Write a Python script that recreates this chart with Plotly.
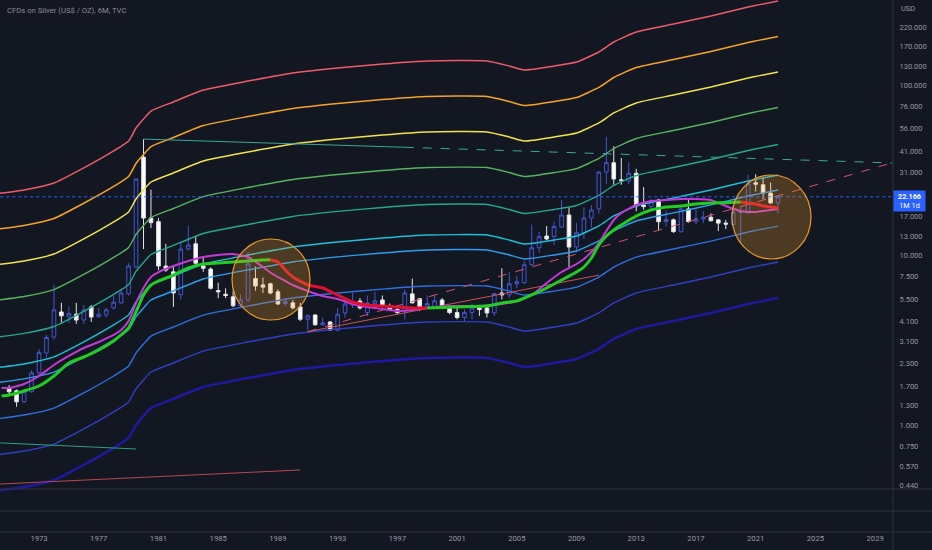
import plotly.graph_objects as go

BG = '#131722'
TXT = '#9598a1'
FONT = 'Roboto'

# ---- 6M candles, TVC silver, 1971 H1 .. 2022 H2 ----
candle_open = [1.65, 1.59, 1.37, 1.57, 2.03, 2.66, 3.30, 4.64, 4.35, 4.50,
               4.16, 4.97, 4.35, 4.45, 4.90, 5.25, 5.93, 8.56, 38.0, 16.6,
               15.8, 8.66, 8.00, 5.86, 10.9, 11.7, 8.66, 8.30, 6.20, 5.90,
               5.70, 5.05, 5.46, 7.30, 6.70, 6.80, 6.10, 5.20, 5.25, 4.97,
               4.20, 4.45, 3.90, 4.05, 3.63, 4.58, 5.10, 5.38, 4.60, 5.20,
               5.46, 5.00, 4.80, 4.70, 5.93, 5.55, 5.00, 5.00, 5.46, 5.00,
               4.60, 4.30, 4.60, 4.90, 4.90, 4.58, 6.00, 5.85, 6.80, 6.90,
               8.80, 11.1, 13.0, 12.9, 14.7, 17.3, 11.2, 13.6, 16.6, 18.8,
               31.0, 35.2, 27.9, 27.5, 30.5, 19.8, 19.4, 21.2, 15.8, 16.2,
               13.8, 18.8, 15.8, 16.4, 16.8, 16.2, 15.5, 15.2, 17.9, 17.8,
               26.8, 26.1, 23.3, 20.4]
candle_high = [1.72, 1.62, 1.62, 2.10, 2.80, 3.40, 6.70, 5.25, 5.00, 5.25,
               5.10, 5.10, 4.90, 4.90, 5.80, 6.30, 9.00, 28.5, 48.5, 24.4,
               16.6, 11.7, 8.66, 11.9, 14.9, 12.9, 9.90, 8.50, 6.90, 6.40,
               6.20, 5.90, 10.5, 8.60, 7.40, 6.90, 6.30, 5.60, 5.46, 5.25,
               4.50, 4.50, 4.30, 4.10, 4.90, 5.46, 6.00, 5.60, 5.80, 6.10,
               5.80, 5.20, 5.10, 6.30, 7.30, 5.60, 5.80, 5.80, 5.60, 5.10,
               4.90, 4.80, 5.20, 5.10, 4.95, 6.00, 8.40, 8.00, 7.60, 9.30,
               15.2, 13.8, 14.9, 15.8, 21.2, 19.2, 15.5, 19.2, 19.8, 31.3,
               49.8, 44.0, 37.5, 35.4, 32.4, 25.3, 21.6, 21.6, 18.4, 16.5,
               19.3, 21.2, 18.6, 18.2, 17.7, 16.3, 16.2, 19.6, 19.6, 29.9,
               30.1, 28.7, 26.9, 22.5]
candle_low = [1.50, 1.28, 1.35, 1.55, 1.95, 2.50, 3.20, 4.00, 4.00, 3.95,
              3.95, 4.05, 4.30, 4.30, 4.80, 5.20, 5.80, 8.40, 10.9, 14.5,
              8.20, 8.00, 4.97, 5.50, 10.7, 8.60, 8.00, 6.30, 5.60, 5.60,
              4.95, 4.90, 5.30, 6.20, 6.00, 5.90, 5.10, 5.00, 4.80, 4.10,
              3.60, 3.85, 3.85, 3.60, 3.55, 4.30, 4.90, 4.80, 4.40, 5.10,
              4.95, 4.70, 4.50, 4.20, 5.20, 4.70, 4.90, 4.90, 4.90, 4.50,
              4.20, 4.05, 4.20, 4.40, 4.30, 4.40, 5.50, 5.60, 6.40, 6.80,
              8.70, 10.3, 12.3, 11.5, 14.5, 8.55, 10.4, 12.5, 14.6, 17.6,
              26.4, 26.1, 26.1, 26.2, 18.2, 18.6, 18.2, 14.1, 14.8, 13.6,
              13.6, 15.6, 15.2, 15.5, 15.9, 13.9, 14.3, 15.0, 12.0, 17.7,
              23.8, 21.4, 20.1, 17.6]
candle_close = [1.57, 1.37, 1.57, 2.03, 2.68, 3.28, 4.77, 4.40, 4.55, 4.16,
                4.77, 4.33, 4.50, 4.77, 5.30, 6.00, 8.66, 28.2, 16.6, 15.6,
                8.66, 8.20, 6.00, 10.9, 11.5, 9.00, 8.40, 6.40, 6.10, 5.80,
                5.05, 5.46, 8.90, 6.60, 6.50, 6.00, 5.17, 5.35, 4.90, 4.20,
                4.40, 3.90, 4.00, 3.63, 4.50, 5.17, 5.30, 4.90, 5.25, 5.40,
                5.00, 4.80, 4.60, 6.00, 5.25, 5.00, 5.20, 5.40, 5.00, 4.60,
                4.30, 4.60, 4.90, 4.80, 4.58, 5.96, 5.85, 6.80, 7.00, 8.80,
                11.1, 12.9, 12.5, 14.8, 17.3, 11.2, 13.6, 16.6, 18.5, 31.0,
                35.2, 28.2, 27.6, 30.5, 19.6, 19.4, 21.0, 15.8, 16.3, 13.8,
                18.8, 15.8, 16.4, 16.8, 16.0, 15.5, 15.3, 18.0, 18.1, 26.4,
                26.3, 23.3, 20.4, 22.166]
candle_dates = []
for year in range(1971, 2023):
    candle_dates += [f'{year}-01-01', f'{year}-07-01']

# ---- price bands ----
band_dates = ['1970-01-01', '1972-01-01', '1974-01-01', '1976-01-01',
              '1978-01-01', '1979-01-01', '1979-07-01', '1980-01-01',
              '1980-07-01', '1982-01-01', '1984-01-01', '1987-01-01',
              '1990-01-01', '1993-01-01', '1996-01-01', '1999-01-01',
              '2003-01-01', '2004-07-01', '2005-07-01', '2007-07-01',
              '2009-01-01', '2010-07-01', '2011-07-01', '2013-01-01',
              '2015-07-01', '2018-01-01', '2020-07-01', '2022-07-01']
band_red = [23.0, 24.3, 26.7, 32.8, 41.3, 47.3, 56.4, 63.7, 71.0, 80.3,
            94.4, 106.7, 119.0, 127.4, 134.4, 140.0, 140.0, 130.8, 123.9,
            130.8, 138.1, 158.3, 181.3, 207.6, 231.4, 258.0, 291.5, 316.2]
band_orange = [14.2, 15.0, 16.5, 20.3, 25.5, 29.2, 34.8, 39.3, 43.8, 49.6,
               58.3, 65.9, 73.5, 78.7, 83.0, 86.5, 86.5, 80.8, 76.5, 80.8,
               85.3, 97.8, 112.0, 128.2, 142.9, 159.3, 180.0, 195.3]
band_yellow = [8.77, 9.27, 10.19, 12.51, 15.76, 18.04, 21.52, 24.30, 27.09,
               30.63, 36.01, 40.71, 45.40, 48.60, 51.27, 53.41, 53.41, 49.90,
               47.27, 49.90, 52.69, 60.39, 69.17, 79.20, 88.28, 98.43, 111.2,
               120.6]
band_lime = [5.42, 5.72, 6.29, 7.72, 9.73, 11.14, 13.28, 15.00, 16.72, 18.91,
             22.23, 25.13, 28.02, 30.00, 31.65, 32.97, 32.97, 30.80, 29.18,
             30.80, 32.52, 37.28, 42.70, 48.89, 54.49, 60.76, 68.65, 74.47]
band_teal = [3.28, 3.47, 3.81, 4.68, 5.89, 6.74, 8.04, 9.08, 10.12, 11.45,
             13.46, 15.22, 16.97, 18.17, 19.17, 19.96, 19.96, 18.65, 17.67,
             18.65, 19.69, 22.57, 25.85, 29.60, 33.00, 36.79, 41.57, 45.09]
band_cyan = [2.17, 2.29, 2.52, 3.09, 3.89, 4.46, 5.31, 6.00, 6.69, 7.56,
             8.89, 10.05, 11.21, 12.00, 12.66, 13.19, 13.19, 12.32, 11.67,
             12.32, 13.01, 14.91, 17.08, 19.56, 21.80, 24.30, 27.46, 29.79]
band_sky = [1.77, 1.87, 2.05, 2.52, 3.18, 3.64, 4.34, 4.90, 5.46, 6.18,
            7.26, 8.21, 9.15, 9.80, 10.34, 10.77, 10.77, 10.06, 9.53, 10.06,
            10.62, 12.17, 13.94, 15.96, 17.80, 19.84, 22.42, 24.32]
band_blue = [1.083, 1.145, 1.258, 1.545, 1.945, 2.228, 2.656, 3.000, 3.344,
             3.782, 4.446, 5.026, 5.605, 6.001, 6.330, 6.594, 6.594, 6.161,
             5.836, 6.161, 6.505, 7.456, 8.539, 9.778, 10.90, 12.15, 13.73,
             14.89]
band_indigo = [0.665, 0.703, 0.772, 0.948, 1.194, 1.367, 1.631, 1.842, 2.053,
               2.321, 2.729, 3.085, 3.440, 3.683, 3.885, 4.047, 4.047, 3.781,
               3.582, 3.781, 3.992, 4.576, 5.241, 6.002, 6.690, 7.459, 8.427,
               9.141]
band_navy = [0.408, 0.431, 0.474, 0.582, 0.733, 0.839, 1.001, 1.130, 1.260,
             1.425, 1.675, 1.893, 2.111, 2.260, 2.384, 2.484, 2.484, 2.320,
             2.198, 2.320, 2.450, 2.808, 3.216, 3.683, 4.105, 4.578, 5.171,
             5.609]

# ---- moving averages ----
ma_dates = ['1970-07-01', '1971-01-01', '1972-01-01', '1973-01-01',
            '1974-01-01', '1975-01-01', '1976-01-01', '1977-01-01',
            '1978-01-01', '1978-07-01', '1979-01-01', '1979-07-01',
            '1980-01-01', '1980-07-01', '1981-01-01', '1982-01-01',
            '1983-01-01', '1984-01-01', '1985-01-01', '1986-01-01',
            '1987-01-01', '1988-01-01', '1988-07-01', '1989-01-01',
            '1989-07-01', '1990-01-01', '1991-01-01', '1992-01-01',
            '1993-01-01', '1994-01-01', '1995-01-01', '1996-01-01',
            '1997-01-01', '1998-01-01', '1999-01-01', '2000-01-01',
            '2001-01-01', '2002-01-01', '2003-01-01', '2004-01-01',
            '2005-01-01', '2006-01-01', '2007-01-01', '2008-01-01',
            '2009-01-01', '2009-07-01', '2010-01-01', '2010-07-01',
            '2011-01-01', '2011-07-01', '2012-01-01', '2013-01-01',
            '2014-01-01', '2015-01-01', '2016-01-01', '2017-01-01',
            '2018-01-01', '2019-01-01', '2020-01-01', '2020-07-01',
            '2021-01-01', '2021-07-01', '2022-01-01', '2022-07-01']
ma_slow = [1.483, 1.503, 1.587, 1.698, 1.945, 2.321, 2.517, 2.768, 3.128,
           3.394, 3.732, 4.638, 5.842, 6.691, 7.065, 7.663, 8.427, 8.898,
           9.022, 9.144, 9.268, 9.395, 9.42, 9.144, 8.20, 7.458, 6.691,
           6.424, 5.842, 5.311, 5.099, 5.031, 4.963, 4.896, 4.89, 4.929,
           4.963, 4.997, 5.031, 5.240, 5.384, 5.842, 6.424, 7.161, 7.981,
           8.543, 9.654, 11.52, 13.01, 14.12, 15.11, 17.08, 18.52, 19.29,
           19.56, 20.10, 20.37, 20.45, 20.65, 20.37, 20.10, 19.56, 19.29,
           19.03]
ma_fast = [1.653, 1.653, 1.745, 1.945, 2.259, 2.552, 2.844, 3.086, 3.394,
           3.633, 4.105, 5.240, 6.424, 7.458, 7.981, 8.660, 9.268, 9.786,
           10.06, 10.19, 9.786, 8.543, 7.93, 7.458, 7.065, 6.691, 6.167,
           5.763, 5.533, 5.169, 4.963, 4.831, 4.702, 4.766, 4.896, 4.997,
           5.031, 5.031, 5.065, 5.169, 5.384, 5.842, 6.876, 7.981, 8.898,
           9.523, 10.47, 11.83, 13.93, 16.17, 17.78, 19.83, 20.94, 21.22,
           21.50, 21.50, 21.22, 19.56, 18.27, 18.03, 18.03, 18.27, 18.52,
           18.77]

# ---- drawn trend lines (anchor points) ----
teal_x = ['1980-01-01', '1997-07-01', '2030-03-01']
teal_y = [48.5, 43.4, 35.1]
pink_x = ['1991-01-01', '2030-03-01']
pink_y = [3.55, 35.2]
salmon_x = ['1991-01-01', '2010-07-01']
salmon_y = [3.55, 7.65]
low_green_x = ['1970-01-01', '1979-07-01']
low_green_y = [0.787, 0.722]
low_red_x = ['1970-01-01', '1990-07-01']
low_red_y = [0.447, 0.543]

# ---- axis ticks ----
year_ticks = [f'{y}-01-01' for y in range(1973, 2030, 4)]
year_labels = [str(y) for y in range(1973, 2030, 4)]
price_ticks = [0.44, 0.57, 0.75, 1.0, 1.3, 1.7, 2.3, 3.1, 4.1, 5.5, 7.5,
               10, 13, 17, 31, 41, 56, 76, 100, 130, 170, 220]
price_labels = [f'{v:.3f}' for v in price_ticks]

fig = go.Figure()

fig.add_trace(go.Candlestick(
    x=candle_dates, open=candle_open, high=candle_high,
    low=candle_low, close=candle_close, whiskerwidth=0,
    increasing=dict(line=dict(color='#4356cf', width=1),
                    fillcolor='rgba(0,0,0,0)'),
    decreasing=dict(line=dict(color='#e4e5ea', width=1),
                    fillcolor='#ffffff'),
    hoverinfo='skip'))

bands = [(band_red, '#ee5a6a', 1.5), (band_orange, '#f7a325', 1.5),
         (band_yellow, '#f2e34c', 1.5), (band_lime, '#56b45e', 1.4),
         (band_teal, '#22a88e', 1.4), (band_cyan, '#1ebfd8', 1.4),
         (band_sky, '#2b9ef0', 1.4), (band_blue, '#2f6fe0', 1.4),
         (band_indigo, '#2f3fc4', 1.4), (band_navy, '#1e1aa0', 2.5)]
for values, color, width in bands:
    fig.add_trace(go.Scatter(x=band_dates, y=values, mode='lines',
                             line=dict(color=color, width=width,
                                       shape='spline', smoothing=0.5),
                             hoverinfo='skip'))


def add_line(xs, ys, color, width=1, dash='solid', smooth=False):
    line = dict(color=color, width=width, dash=dash)
    if smooth:
        line.update(shape='spline', smoothing=0.5)
    fig.add_trace(go.Scatter(x=xs, y=ys, mode='lines', line=line,
                             hoverinfo='skip'))


add_line(teal_x[:2], teal_y[:2], '#3aa898')
add_line(teal_x[1:], teal_y[1:], '#3aa898', dash='dash')
add_line(pink_x, pink_y, '#d8506e', dash='dash')
add_line(salmon_x, salmon_y, '#c8565a')
add_line(low_green_x, low_green_y, '#2e9e86')
add_line(low_red_x, low_red_y, '#b8474f')

# current price line
add_line(['1970-01-01', '2030-06-01'], [candle_close[-1]] * 2, '#2962ff',
         dash='dot')

add_line(ma_dates, ma_fast, '#c23ad6', width=2, smooth=True)

# slow MA: green while rising, red while falling
rising = [ma_slow[i + 1] >= ma_slow[i] for i in range(len(ma_slow) - 1)]
start = 0
for i in range(1, len(rising) + 1):
    if i == len(rising) or rising[i] != rising[start]:
        color = '#22cc22' if rising[start] else '#e01030'
        add_line(ma_dates[start:i + 1], ma_slow[start:i + 1], color,
                 width=3, smooth=True)
        start = i

W, H = 893, 532
shapes = []
for py in (489, 511, 532):
    shapes.append(dict(type='line', xref='paper', yref='paper',
                       x0=0, x1=932 / W, y0=1 - py / H, y1=1 - py / H,
                       line=dict(color='#2e323d', width=1)))
shapes.append(dict(type='line', xref='paper', yref='paper', x0=1, x1=1,
                   y0=-18 / H, y1=1, line=dict(color='#2e323d', width=1)))
for x0, x1, y0, y1 in [(232, 310, 239, 320), (732, 811, 175, 259)]:
    shapes.append(dict(type='circle', xref='paper', yref='paper',
                       x0=x0 / W, x1=x1 / W, y0=1 - y1 / H, y1=1 - y0 / H,
                       fillcolor='rgba(245,160,40,0.26)',
                       line=dict(color='#e89a2c', width=1.2), layer='above'))

annotations = [
    dict(text='CFDs on Silver (US$ / OZ), 6M, TVC', xref='paper',
         yref='paper', x=5 / W, y=1 - 10 / H, xanchor='left',
         yanchor='middle', showarrow=False,
         font=dict(family=FONT, size=7.7, color='#8a8d96')),
    dict(text='USD', xref='paper', yref='paper', x=899 / W, y=1 - 8 / H,
         xanchor='left', yanchor='middle', showarrow=False,
         font=dict(family=FONT, size=7.5, color=TXT)),
    dict(text='<b>22.166</b><br>1M 1d', xref='paper', yref='paper',
         x=1, y=1 - 201 / H, xanchor='left', yanchor='middle',
         showarrow=False, bgcolor='#2962ff', width=29, borderpad=1,
         align='center', font=dict(family=FONT, size=7.3, color='#ffffff')),
]

fig.update_layout(
    width=932, height=550,
    margin=dict(l=0, r=39, t=0, b=18),
    paper_bgcolor=BG, plot_bgcolor=BG,
    showlegend=False,
    shapes=shapes,
    annotations=annotations,
    xaxis=dict(type='date', range=['1970-05-22', '2030-03-14'],
               rangeslider=dict(visible=False), showgrid=False,
               zeroline=False, showline=False, ticks='',
               tickvals=year_ticks, ticktext=year_labels,
               tickfont=dict(family=FONT, size=7.7, color=TXT)),
    yaxis=dict(type='log', range=[-0.631, 2.506], side='right',
               showgrid=False, zeroline=False, showline=False,
               tickvals=price_ticks, ticktext=price_labels,
               ticks='outside', ticklen=4, tickcolor=BG,
               tickfont=dict(family=FONT, size=7.5, color=TXT)),
)

# the page body has a default margin; remove it so the chart fills the window
fig.write_html('out.html', config={'displayModeBar': False},
               post_script="document.body.style.margin='0';"
                           "document.body.style.background='#131722';")
